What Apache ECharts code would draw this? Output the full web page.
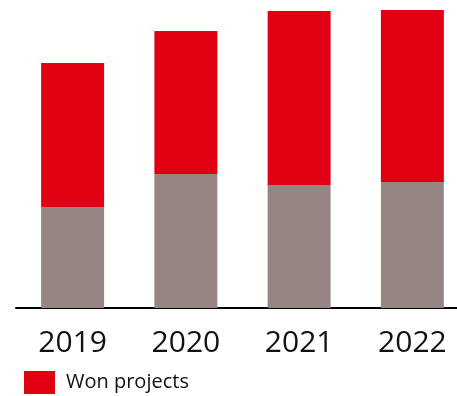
<!DOCTYPE html>
<html>
<head>
<meta charset="utf-8">
<style>
  html, body { margin: 0; padding: 0; background: #ffffff; overflow: hidden; }
  #chart { width: 470px; height: 396px; }
</style>
<script src="https://cdn.jsdelivr.net/npm/echarts@6/dist/echarts.min.js"></script>
</head>
<body>
<div id="chart"></div>
<script>
// Project counts per year: lower (grey) part and the won part stacked on top
const years = ['2019', '2020', '2021', '2022'];
const otherProjects = [101, 134, 123, 126];
const wonProjects = [144, 143, 174, 172];

const chart = echarts.init(document.getElementById('chart'));
chart.setOption({
  animation: false,
  grid: { left: 16, top: 8, width: 453, height: 300, containLabel: false },
  legend: {
    data: ['Won projects'],
    left: 24,
    top: 371,
    padding: 0,
    itemWidth: 31,
    itemHeight: 23,
    icon: 'rect',
    textStyle: { fontFamily: 'Open Sans', fontSize: 20, color: '#111', padding: [0, 0, 0, 6] }
  },
  xAxis: {
    type: 'category',
    data: years,
    axisLine: { lineStyle: { color: '#000', width: 2 } },
    axisTick: { show: false },
    axisLabel: { fontFamily: 'Open Sans', fontSize: 30, color: '#111', margin: 20 }
  },
  yAxis: {
    type: 'value',
    min: 0,
    max: 300,
    show: false
  },
  series: [
    {
      name: 'Other projects',
      type: 'bar',
      stack: 'total',
      barWidth: '55.6%',
      itemStyle: { color: '#978584' },
      data: otherProjects
    },
    {
      name: 'Won projects',
      type: 'bar',
      stack: 'total',
      barWidth: '55.6%',
      itemStyle: { color: '#E10012' },
      data: wonProjects
    }
  ]
});
</script>
</body>
</html>
